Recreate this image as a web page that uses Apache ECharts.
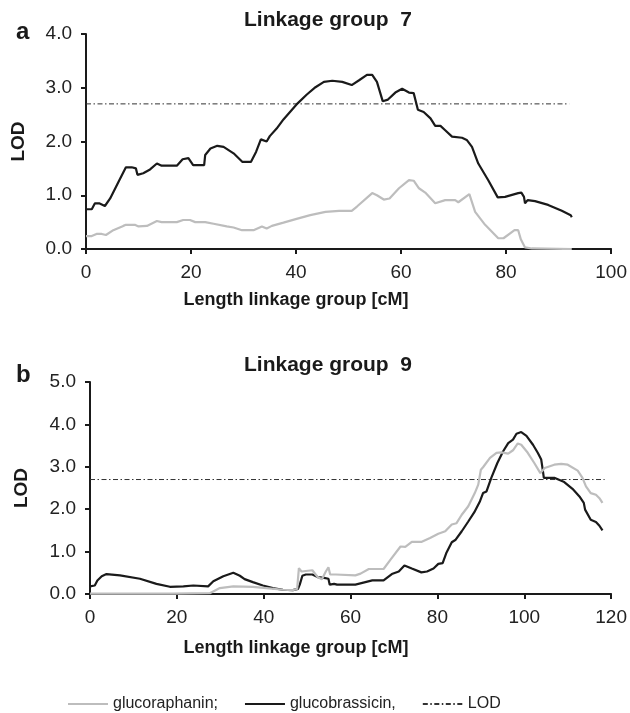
<!DOCTYPE html>
<html>
<head>
<meta charset="utf-8">
<script src="https://cdn.jsdelivr.net/npm/echarts@6/dist/echarts.min.js"></script>
<style>
  html, body { margin: 0; padding: 0; background: #fff; }
  #main { width: 630px; height: 713px; }
</style>
</head>
<body>
<div id="main"></div>
<script>
// linkage group 7  [cM, LOD]
var raphaninA = [[0,0.24],[1.1,0.24],[2.0,0.28],[3.0,0.28],[3.8,0.26],[5.2,0.35],[7.1,0.43],[7.6,0.45],[9.3,0.45],[10.0,0.42],[11.6,0.43],[13.5,0.52],[14.4,0.50],[17.3,0.50],[18.5,0.54],[19.8,0.54],[20.8,0.50],[22.7,0.50],[24.3,0.47],[26.8,0.42],[28.1,0.40],[29.7,0.35],[31.9,0.35],[33.5,0.42],[34.4,0.38],[35.4,0.43],[37.6,0.49],[40.1,0.56],[42.7,0.63],[45.6,0.69],[48.2,0.71],[50.6,0.71],[51.6,0.79],[54.5,1.04],[55.4,1.00],[56.7,0.92],[57.8,0.94],[59.6,1.13],[61.5,1.28],[62.4,1.27],[63.4,1.13],[64.6,1.05],[66.5,0.85],[68.4,0.91],[70.3,0.91],[70.9,0.87],[73.0,1.02],[74.1,0.69],[76.0,0.45],[78.5,0.20],[79.5,0.20],[81.6,0.35],[82.3,0.35],[82.8,0.18],[83.6,0.03],[84.9,0.01],[92.5,0.0]];
var brassicinA = [[0,0.74],[1.1,0.74],[1.7,0.85],[2.5,0.85],[3.6,0.80],[4.6,0.94],[6.2,1.25],[7.6,1.52],[8.7,1.52],[9.5,1.50],[9.8,1.38],[10.9,1.41],[12.2,1.48],[13.5,1.59],[14.4,1.55],[17.3,1.55],[18.4,1.67],[19.5,1.69],[20.4,1.56],[22.5,1.56],[22.7,1.75],[23.7,1.87],[25.0,1.92],[26.2,1.90],[28.1,1.78],[29.8,1.62],[31.4,1.62],[32.4,1.81],[33.3,2.04],[34.4,2.00],[35.0,2.10],[36.3,2.24],[37.6,2.41],[40.3,2.71],[42.0,2.87],[43.7,3.01],[45.3,3.11],[46.9,3.13],[48.8,3.11],[50.6,3.05],[52.0,3.14],[53.5,3.24],[54.5,3.24],[55.4,3.11],[56.5,2.75],[57.5,2.78],[58.9,2.91],[60.2,2.98],[61.5,2.91],[62.4,2.90],[63.2,2.59],[64.3,2.55],[65.6,2.43],[66.5,2.29],[67.5,2.29],[68.4,2.21],[69.7,2.09],[71.6,2.07],[72.5,2.03],[73.5,1.90],[74.7,1.59],[76.6,1.28],[78.4,0.96],[79.8,0.97],[82.3,1.04],[82.9,1.05],[83.4,0.97],[83.6,0.85],[84.1,0.91],[85.5,0.89],[88.0,0.82],[90.6,0.71],[92.3,0.63],[92.5,0.59]];
var lodA = [[0,2.7],[92,2.7]];

// linkage group 9
var raphaninB = [[0,0.01],[19,0.01],[27.6,0.02],[29.9,0.14],[33,0.18],[37.5,0.17],[40.6,0.14],[44.4,0.10],[46.7,0.09],[47.7,0.12],[48.1,0.61],[48.7,0.53],[49.0,0.57],[51.2,0.56],[52.4,0.40],[53.4,0.35],[54.3,0.53],[54.9,0.63],[55.3,0.46],[56.6,0.46],[61.1,0.44],[62.3,0.48],[64.2,0.59],[67.6,0.59],[69.2,0.81],[71.5,1.12],[72.6,1.11],[74.1,1.23],[76.4,1.23],[78.3,1.32],[80.2,1.42],[81.8,1.48],[83.3,1.64],[84.4,1.67],[85.6,1.87],[87.1,2.07],[88.6,2.38],[89.4,2.58],[90.0,2.93],[90.5,2.99],[92.1,3.21],[93.6,3.33],[94.7,3.34],[96.3,3.31],[97.4,3.39],[98.5,3.55],[99.3,3.52],[100.8,3.33],[102.3,3.09],[103.7,2.85],[104.7,2.97],[106.9,3.05],[108.5,3.07],[110.0,3.05],[112.3,2.91],[113.4,2.74],[114.2,2.54],[115.3,2.38],[116.5,2.34],[117.3,2.26],[118.0,2.15]];
var brassicinB = [[0,0.18],[1.1,0.20],[1.7,0.32],[2.7,0.42],[3.8,0.47],[6.9,0.44],[11.5,0.36],[15.3,0.24],[18.4,0.17],[21.5,0.18],[23.8,0.20],[27.2,0.18],[28.4,0.30],[30.7,0.42],[33.0,0.50],[34.5,0.43],[35.6,0.35],[37.5,0.28],[39.8,0.20],[42.1,0.14],[44.4,0.10],[46.7,0.09],[47.9,0.12],[48.3,0.22],[48.9,0.43],[49.7,0.46],[51.2,0.46],[52.4,0.40],[53.9,0.38],[54.9,0.36],[55.2,0.22],[56.2,0.24],[56.9,0.22],[61.1,0.22],[63.4,0.28],[65.0,0.32],[67.6,0.32],[69.5,0.47],[71.1,0.53],[72.4,0.67],[74.1,0.60],[76.3,0.51],[77.6,0.53],[79.1,0.60],[80.2,0.71],[81.2,0.73],[82.1,0.98],[83.3,1.22],[84.2,1.28],[85.6,1.48],[87.1,1.71],[88.5,1.93],[89.8,2.19],[90.5,2.38],[91.3,2.42],[92.4,2.74],[93.8,3.09],[95.1,3.36],[96.3,3.56],[97.4,3.64],[98.2,3.78],[99.3,3.82],[100.5,3.73],[102.0,3.52],[103.1,3.33],[103.9,3.17],[104.3,2.89],[104.5,2.74],[106.9,2.74],[109.2,2.64],[111.1,2.48],[112.7,2.30],[113.7,2.15],[114.0,1.99],[115.3,1.75],[116.5,1.70],[117.3,1.61],[118.0,1.50]];
var lodB = [[0,2.7],[118.5,2.7]];

var names = ['glucoraphanin;', 'glucobrassicin,', 'LOD'];
var titles = ['Linkage group  7', 'Linkage group  9'];
var xName = 'Length linkage group [cM]';

var font = 'Liberation Sans, Arial, sans-serif';
var ink = '#1a1a1a';
var grey = '#bdbdbd';
var dashDot = [5, 2.5, 1.5, 2.5];

function xAxis(idx, max) {
  return {
    type: 'value', gridIndex: idx, min: 0, max: max, interval: 20,
    axisLine: { lineStyle: { color: ink, width: 2 } },
    axisTick: { length: 5, lineStyle: { color: ink, width: 2 } },
    axisLabel: { color: '#222', fontSize: 19, fontFamily: font, margin: 14 },
    splitLine: { show: false }
  };
}
function yAxis(idx, max, gap) {
  return {
    type: 'value', gridIndex: idx, min: 0, max: max, interval: 1,
    name: 'LOD', nameLocation: 'middle', nameRotate: 90, nameGap: gap,
    nameTextStyle: { color: ink, fontSize: 19, fontWeight: 'bold', fontFamily: font },
    axisLine: { show: true, lineStyle: { color: ink, width: 2 } },
    axisTick: { show: true, length: 5, lineStyle: { color: ink, width: 2 } },
    axisLabel: { color: '#222', fontSize: 19, fontFamily: font, margin: 14,
      formatter: function (v) { return v.toFixed(1); } },
    splitLine: { show: false }
  };
}
function line(name, idx, data, color, width, type) {
  return {
    name: name, type: 'line', xAxisIndex: idx, yAxisIndex: idx,
    data: data, symbol: 'none', silent: true, animation: false,
    lineStyle: { color: color, width: width, type: type || 'solid' },
    itemStyle: { color: color }
  };
}
function label(text, x, y, size, align) {
  return {
    type: 'text', x: x, y: y,
    style: { text: text, fill: ink, font: 'bold ' + size + 'px ' + font,
      align: align, textAlign: align, verticalAlign: 'middle', textVerticalAlign: 'middle' }
  };
}

var chart = echarts.init(document.getElementById('main'), null, { renderer: 'canvas' });
chart.setOption({
  backgroundColor: '#fff',
  animation: false,
  grid: [
    { left: 86, top: 34, width: 527, height: 215 },
    { left: 90, top: 382, width: 523, height: 212 }
  ],
  xAxis: [xAxis(0, 100), xAxis(1, 120)],
  yAxis: [yAxis(0, 4, 58), yAxis(1, 5, 59)],
  graphic: [
    label(titles[0], 328, 20, 21, 'center'),
    label(titles[1], 328, 365, 21, 'center'),
    label('a', 16, 32, 24, 'left'),
    label('b', 16, 375, 24, 'left'),
    label(xName, 296, 300, 18, 'center'),
    label(xName, 296, 648, 18, 'center')
  ],
  legend: {
    data: names, left: 62, top: 691, itemWidth: 40, itemHeight: 12, itemGap: 26,
    itemStyle: { opacity: 0 },
    textStyle: { color: '#222', fontSize: 16, fontFamily: font }
  },
  series: [
    line(names[2], 0, lodA, '#333', 1, dashDot),
    line(names[0], 0, raphaninA, grey, 2.2),
    line(names[1], 0, brassicinA, ink, 2.2),
    line(names[2], 1, lodB, '#333', 1, dashDot),
    line(names[1], 1, brassicinB, ink, 2.2),
    line(names[0], 1, raphaninB, grey, 2.2)
  ]
});
</script>
</body>
</html>
